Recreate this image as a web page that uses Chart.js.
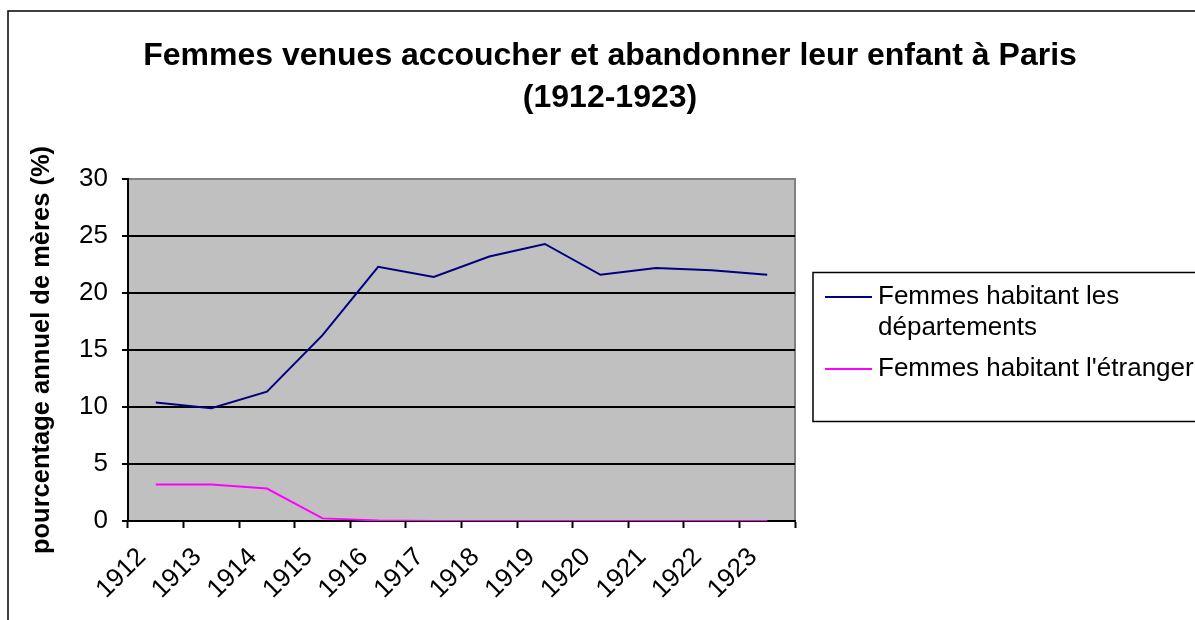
<!DOCTYPE html>
<html lang="fr">
<head>
  <meta charset="UTF-8">
  <title>Femmes venues accoucher et abandonner leur enfant à Paris</title>
  <script src="https://cdn.jsdelivr.net/npm/chart.js"></script>
  <style>
    body {
      margin: 0;
      background: #fff;
    }
    #chart-container {
      width: 1195px;
      height: 620px;
    }
  </style>
</head>
<body>
  <div id="chart-container">
    <canvas id="abandonChart"></canvas>
  </div>

  <script>
    // Data
    const years = ["1912", "1913", "1914", "1915", "1916", "1917", "1918", "1919", "1920", "1921", "1922", "1923"];
    const departements = [10.4, 9.9, 11.35, 16.3, 22.3, 21.4, 23.2, 24.3, 21.6, 22.2, 22.0, 21.6];
    const etranger = [3.2, 3.2, 2.85, 0.23, 0.05, 0, 0, 0, 0, 0, 0, 0];
    const yTicks = [0, 5, 10, 15, 20, 25, 30];

    const chartTitle = ["Femmes venues accoucher et abandonner leur enfant à Paris", "(1912-1923)"];
    const yTitle = "pourcentage annuel de mères (%)";
    const legendLabels = [["Femmes habitant les", "départements"], ["Femmes habitant l'étranger"]];
    const seriesColors = ["#000080", "#FF00FF"];

    const FONT = "'Liberation Sans', Arial, sans-serif";

    // Page frame, grey plot area and its grey top/right edge
    const backgroundPlugin = {
      id: "background",
      beforeDraw(chart) {
        const { ctx, chartArea: a } = chart;
        ctx.save();
        ctx.fillStyle = "#C0C0C0";
        ctx.fillRect(a.left, a.top, a.right - a.left, a.bottom - a.top);
        ctx.strokeStyle = "#808080";
        ctx.lineWidth = 2;
        ctx.beginPath();
        ctx.moveTo(a.left, a.top);
        ctx.lineTo(a.right, a.top);
        ctx.lineTo(a.right, a.bottom);
        ctx.stroke();
        ctx.strokeStyle = "#000";
        ctx.lineWidth = 1.5;
        ctx.strokeRect(8, 11, 1300, 1000);
        ctx.restore();
      }
    };

    // Excel-style legend box on the right, with a two-line first entry
    const legendPlugin = {
      id: "boxLegend",
      afterDraw(chart) {
        const { ctx } = chart;
        ctx.save();
        ctx.strokeStyle = "#000";
        ctx.lineWidth = 1.5;
        ctx.strokeRect(813, 272.5, 500, 149);
        ctx.font = "26px " + FONT;
        ctx.fillStyle = "#000";
        ctx.textBaseline = "middle";
        let y = 297;
        chart.data.datasets.forEach((ds, i) => {
          ctx.strokeStyle = ds.borderColor;
          ctx.lineWidth = 2;
          ctx.beginPath();
          ctx.moveTo(825, y);
          ctx.lineTo(872, y);
          ctx.stroke();
          legendLabels[i].forEach((line, j) => {
            ctx.fillText(line, 878, y + j * 31);
          });
          y += legendLabels[i].length * 31 + 10;
        });
        ctx.restore();
      }
    };

    const ctx = document.getElementById("abandonChart").getContext("2d");

    new Chart(ctx, {
      type: "line",
      data: {
        labels: years,
        datasets: [
          {
            label: legendLabels[0].join(" "),
            data: departements,
            borderColor: seriesColors[0],
            borderWidth: 2,
            pointRadius: 0,
            tension: 0
          },
          {
            label: legendLabels[1].join(" "),
            data: etranger,
            borderColor: seriesColors[1],
            borderWidth: 2,
            pointRadius: 0,
            tension: 0
          }
        ]
      },
      options: {
        responsive: true,
        maintainAspectRatio: false,
        animation: false,
        layout: {
          padding: { left: 25, right: 0, top: 0, bottom: 0 }
        },
        plugins: {
          legend: { display: false },
          tooltip: { enabled: false },
          title: {
            display: true,
            text: chartTitle,
            color: "#000",
            font: { family: FONT, size: 32, weight: "bold", lineHeight: 1.3125 },
            padding: { top: 35, bottom: 60 }
          }
        },
        scales: {
          x: {
            type: "category",
            offset: true,
            grid: {
              offset: true,
              drawOnChartArea: false,
              drawTicks: true,
              tickLength: 7,
              tickColor: "#000",
              tickWidth: 2
            },
            border: { display: true, color: "#000", width: 2 },
            ticks: {
              color: "#000",
              font: { family: FONT, size: 26 },
              maxRotation: 45,
              minRotation: 45,
              autoSkip: false,
              padding: 14,
              labelOffset: -14
            },
            afterFit(scale) {
              scale.height = 99;
            }
          },
          y: {
            type: "linear",
            position: "left",
            min: yTicks[0],
            max: yTicks[yTicks.length - 1],
            afterBuildTicks(scale) {
              scale.ticks = yTicks.map(v => ({ value: v }));
            },
            grid: {
              color: c => (c.tick && c.tick.value === 30 ? "#808080" : "#000"),
              lineWidth: 2,
              tickLength: 6,
              tickColor: "#000",
              tickWidth: 2
            },
            border: { display: true, color: "#000", width: 2 },
            ticks: {
              color: "#000",
              font: { family: FONT, size: 26 },
              padding: 14
            },
            title: {
              display: true,
              text: yTitle,
              color: "#000",
              font: { family: FONT, size: 25.5, weight: "bold" },
              padding: { top: 2, bottom: 0 }
            },
            afterFit(scale) {
              scale.width = 103;
            }
          },
          // empty right-hand axis that only reserves room for the legend box
          yRight: {
            type: "linear",
            position: "right",
            display: true,
            grid: { drawOnChartArea: false, drawTicks: false },
            border: { display: false },
            ticks: { display: false },
            afterFit(scale) {
              scale.width = 400;
            }
          }
        }
      },
      plugins: [backgroundPlugin, legendPlugin]
    });
  </script>
</body>
</html>
